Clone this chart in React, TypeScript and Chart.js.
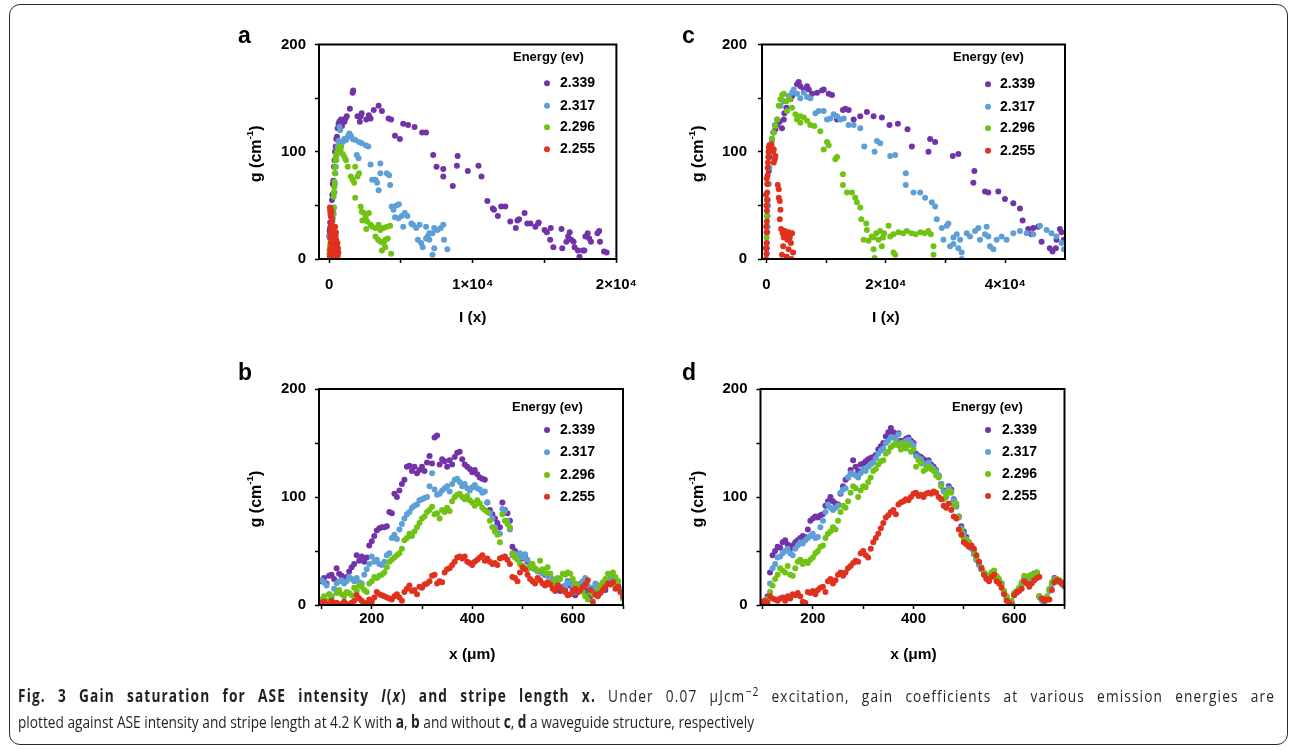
import React, { useEffect, useLayoutEffect, useRef } from 'react';
import { Chart, registerables } from 'chart.js';

Chart.register(...registerables);

// ---------------- data ----------------
const energies = ['2.339', '2.317', '2.296', '2.255'];
const legendTitle = 'Energy (ev)';
const yTicks = [0, 50, 100, 150, 200];
const yTickLabels = ['0', '', '100', '', '200'];
const xTicksA = [0, 5000, 10000, 15000, 20000];
const xTickLabelsA = ['0', '', '1×10⁴', '', '2×10⁴'];
const xTicksC = [0, 10000, 20000, 30000, 40000];
const xTickLabelsC = ['0', '', '2×10⁴', '', '4×10⁴'];
const xTicksBD = [100, 200, 300, 400, 500, 600, 700];
const xTickLabelsBD = ['', '200', '', '400', '', '600', ''];

// panel a : g vs I(x), with waveguide  [I, g]
const aPurple: [number, number][] = [
  [20, 22], [40, 26], [60, 28], [80, 34], [100, 30], [120, 40], [150, 46], [180, 44], [200, 55], [230, 60],
  [260, 70], [300, 73], [340, 86], [380, 92], [420, 100], [460, 105], [500, 112], [550, 114], [600, 122], [660, 126],
  [720, 128], [780, 129], [840, 130], [900, 124], [960, 128], [1070, 128], [1150, 131], [1230, 133], [1450, 140], [1640, 155],
  [1680, 157], [1980, 133], [2140, 128], [2200, 133], [2270, 136], [2590, 130], [2770, 134], [2890, 131], [3110, 139], [3450, 143],
  [3680, 138], [4140, 131], [4320, 130], [4590, 115], [4930, 112], [5160, 126], [5500, 125], [5950, 123], [6480, 118], [6750, 118],
  [7250, 97], [7480, 86], [7950, 84], [7950, 77], [8610, 68], [8900, 87], [8950, 96], [9660, 82], [10400, 87], [10610, 77],
  [11020, 54], [11400, 47], [11480, 46], [11750, 40], [11980, 49], [12270, 49], [12610, 35], [13000, 29], [13110, 36], [13230, 37],
  [13610, 43], [13800, 33], [14020, 33], [14360, 30], [14550, 33], [14590, 34], [15000, 27], [15160, 25], [15430, 29], [15390, 18],
  [15610, 11], [16180, 28], [16230, 10], [16520, 16], [16640, 21], [16750, 25], [16860, 18], [17020, 16], [17090, 11], [17320, 8],
  [17430, 2], [17660, 8], [17770, 8], [17840, 21], [18000, 24], [18110, 19], [18230, 16], [18680, 24], [18800, 26], [18860, 16],
  [19140, 7], [19320, 6],
];
const aBlue: [number, number][] = [
  [20, 20], [50, 22], [80, 10], [110, 20], [140, 22], [170, 25], [200, 22], [230, 28], [260, 38], [290, 45],
  [320, 42], [350, 48], [380, 62], [410, 70], [440, 80], [470, 86], [500, 92], [530, 97], [560, 100], [600, 105],
  [650, 110], [730, 123], [770, 120], [850, 107], [950, 109], [1050, 112], [1180, 111], [1300, 114], [1410, 117], [1520, 115],
  [1640, 112], [1820, 111], [1930, 97], [2050, 94], [2090, 109], [2270, 108], [2550, 106], [2730, 105], [2890, 88], [3000, 74],
  [3230, 74], [3340, 71], [3450, 64], [3570, 89], [3570, 80], [4020, 80], [4180, 78], [4250, 69], [4360, 49], [4480, 46],
  [4590, 39], [4700, 50], [4820, 38], [4860, 51], [5050, 40], [5160, 30], [5270, 43], [5450, 40], [5730, 33], [5840, 32],
  [6070, 29], [6180, 18], [6300, 32], [6410, 15], [6520, 11], [6750, 30], [6750, 19], [6860, 21], [6980, 24], [6980, 18],
  [7200, 24], [7200, 4], [7320, 29], [7320, 10], [7550, 27], [7770, 29], [7950, 32], [8000, 18], [8230, 9],
];
const aGreen: [number, number][] = [
  [20, 5], [40, 8], [60, 10], [80, 12], [100, 14], [120, 17], [150, 20], [180, 25], [210, 30], [240, 35],
  [270, 42], [300, 48], [320, 58], [340, 62], [360, 67], [380, 72], [400, 80], [420, 86], [450, 92], [480, 95],
  [520, 98], [580, 100], [640, 103], [730, 104], [800, 102], [840, 105], [950, 98], [1070, 95], [1180, 92], [1300, 86],
  [1520, 77], [1640, 74], [1750, 71], [1820, 86], [1820, 57], [1980, 77], [2090, 80], [2200, 49], [2270, 44], [2320, 36],
  [2430, 43], [2550, 39], [2590, 28], [2660, 35], [2770, 43], [2890, 32], [3000, 30], [3230, 29], [3230, 21], [3410, 18],
  [3450, 32], [3570, 27], [3570, 16], [3680, 8], [3800, 29], [3800, 15], [3910, 18], [3910, 11], [4020, 30], [4090, 19],
  [4250, 31], [4320, 5],
];
const aRed: [number, number][] = [
  [60, 48], [80, 45], [100, 42], [120, 46], [140, 40], [160, 44], [180, 38], [200, 35], [150, 30], [130, 26],
  [100, 24], [90, 20], [110, 15], [130, 10], [80, 8], [100, 4], [120, 0], [60, 2], [200, 28], [240, 25],
  [280, 22], [320, 26], [360, 24], [400, 20], [430, 16], [460, 22], [500, 18], [540, 12], [580, 15], [620, 10],
  [650, 6], [600, 3], [550, 0], [380, 8], [300, 12], [250, 5], [200, 2], [420, 30], [480, 25],
];

// panel c : g vs I(x), without waveguide  [I, g]
const cPurple: [number, number][] = [
  [50, 10], [100, 25], [150, 40], [200, 55], [300, 70], [400, 82], [500, 95], [700, 105], [900, 112], [1200, 118],
  [1500, 121], [1800, 125], [2200, 128], [2600, 122], [2900, 130], [3000, 136], [3340, 141], [4010, 149], [4290, 152], [5120, 163],
  [5400, 165], [5680, 161], [6240, 158], [6800, 161], [7080, 158], [7630, 154], [8470, 155], [9300, 157], [9580, 158], [10420, 154],
  [10970, 153], [11810, 130], [12810, 139], [13200, 140], [13760, 139], [14600, 130], [15710, 133], [16820, 137], [17940, 133], [19330, 132],
  [20610, 125], [22010, 126], [23620, 121], [24350, 105], [27130, 100], [27410, 112], [28250, 109], [31200, 96], [32140, 98], [34650, 71],
  [34820, 82], [36600, 63], [37160, 62], [38830, 63], [39940, 56], [41340, 52], [42450, 47], [42900, 36], [43840, 28], [44400, 23],
  [44680, 29], [45510, 30], [46070, 16], [47460, 10], [47910, 7], [48470, 10], [48580, 18], [49140, 28], [49420, 25], [49800, 18],
];
const cBlue: [number, number][] = [
  [50, 5], [100, 15], [200, 30], [300, 50], [400, 70], [500, 85], [700, 100], [900, 110], [1100, 118], [1400, 125],
  [1780, 130], [2340, 143], [2900, 147], [3730, 152], [4290, 155], [4570, 158], [5120, 154], [5680, 150], [6240, 155], [6800, 151],
  [7350, 150], [8190, 136], [8750, 138], [9580, 138], [10140, 130], [10700, 131], [11250, 135], [11810, 133], [12370, 130], [12930, 131],
  [13760, 125], [14600, 125], [15710, 122], [16380, 105], [18110, 100], [18500, 110], [19050, 108], [20720, 96], [21560, 97], [23340, 80],
  [23340, 69], [24620, 62], [25740, 62], [26570, 57], [27690, 53], [28250, 49], [28520, 37], [29360, 29], [29640, 18], [30190, 31],
  [30470, 33], [30750, 12], [31310, 20], [31310, 14], [31870, 23], [32140, 10], [32420, 18], [32700, 6], [32700, 0], [33540, 24],
  [34090, 21], [34930, 26], [35490, 29], [35770, 18], [36600, 23], [36880, 30], [37160, 21], [37440, 12], [38000, 9], [38550, 18],
  [39390, 21], [40220, 18], [41340, 24], [42450, 26], [43570, 24], [44680, 23], [45800, 31], [46910, 27], [47740, 24], [48580, 21],
  [49420, 15], [49800, 9],
];
const cGreen: [number, number][] = [
  [30, 20], [60, 40], [100, 55], [150, 70], [250, 85], [390, 99], [670, 105], [900, 112], [1230, 118], [1500, 124],
  [1780, 130], [2060, 143], [2340, 149], [2620, 153], [2900, 154], [3340, 147], [3450, 138], [3900, 149], [4290, 141], [4850, 135],
  [5120, 130], [5680, 133], [5680, 127], [6240, 132], [6800, 129], [7350, 125], [8020, 124], [9020, 119], [9580, 102], [10140, 109],
  [10420, 106], [11530, 93], [11810, 95], [12810, 79], [12810, 69], [13480, 62], [14320, 62], [14870, 57], [15150, 53], [15710, 48],
  [15880, 37], [16270, 18], [16710, 33], [16820, 27], [17100, 17], [17660, 21], [17940, 20], [17940, 9], [18110, 1], [18380, 24],
  [18770, 18], [19050, 26], [19330, 12], [19500, 20], [19720, 24], [20450, 31], [20720, 21], [21280, 23], [21280, 6], [21560, 4],
  [22100, 25], [22900, 24], [23500, 26], [24300, 24], [25000, 23], [25800, 25], [26500, 24], [27100, 26], [27520, 23], [27970, 12],
  [27970, 4],
];
const cRed: [number, number][] = [
  [-100, 10], [-50, 30], [0, 50], [-80, 60], [50, 75], [-60, 0], [0, 5], [20, 15], [40, 25], [60, 35],
  [80, 45], [100, 55], [120, 62], [150, 70], [180, 78], [200, 85], [250, 90], [300, 95], [350, 100], [400, 104],
  [500, 106], [600, 105], [700, 103], [800, 107], [950, 104], [1100, 100], [1230, 102], [1230, 90], [1400, 93], [1500, 96],
  [1890, 69], [2060, 65], [2060, 57], [2230, 54], [2340, 46], [2230, 37], [2450, 28], [2700, 24], [2900, 20], [3100, 26],
  [3300, 22], [3500, 18], [3700, 25], [3900, 20], [4100, 15], [4300, 24], [4460, 6], [3700, 9], [3400, 2], [2800, 12],
  [2600, 4], [4200, 0],
];

// panels b and d : g vs stripe length x (um)
const stripeX = [
  100, 105, 110, 115, 120, 125, 130, 135, 140, 145,
  150, 155, 160, 165, 170, 175, 180, 185, 190, 195,
  200, 205, 210, 215, 220, 225, 230, 235, 240, 245,
  250, 255, 260, 265, 270, 275, 280, 285, 290, 295,
  300, 305, 310, 315, 320, 325, 330, 335, 340, 345,
  350, 355, 360, 365, 370, 375, 380, 385, 390, 395,
  400, 405, 410, 415, 420, 425, 430, 435, 440, 445,
  450, 455, 460, 465, 470, 475, 480, 485, 490, 495,
  500, 505, 510, 515, 520, 525, 530, 535, 540, 545,
  550, 555, 560, 565, 570, 575, 580, 585, 590, 595,
  600, 605, 610, 615, 620, 625, 630, 635, 640, 645,
  650, 655, 660, 665, 670, 675, 680, 685, 690, 695,
  700,
];
const bPurple = [
  22, 25, 20, 27, 28, 24, 34, 29, 27, 24,
  26, 31, 35, 38, 46, 41, 45, 40, 44, 55,
  59, 64, 69, 71, 72, 72, 73, 86, 85, 103,
  100, 106, 112, 116, 128, 129, 124, 128, 122, 125,
  128, 124, 132, 138, 131, 155, 157, 130, 135, 133,
  128, 134, 130, 137, 141, 142, 135, 130, 128, 126,
  123, 125, 121, 118, 117, 116, 95, 88, 84, 80,
  76, 72, 95, 88, 85, 78, 54, 50, 47, 44,
  43, 46, 40, 36, 35, 33, 32, 31, 30, 28,
  27, 29, 23, 18, 16, 13, 17, 14, 22, 18,
  15, 9, 12, 14, 18, 12, 16, 8, 13, 16,
  18, 12, 17, 14, 20, 22, 21, 24, 18, 14,
  6,
];
const bBlue = [
  23, 21, 18, 10, 8, 15, 20, 22, 23, 20,
  22, 26, 24, 22, 25, 21, 20, 28, 33, 38,
  45, 40, 42, 38, 37, 40, 46, 48, 62, 65,
  61, 70, 75, 80, 84, 86, 90, 92, 93, 97,
  98, 99, 100, 110, 122, 107, 102, 103, 106, 108,
  110, 105, 112, 116, 117, 114, 110, 112, 108, 106,
  109, 111, 108, 107, 104, 105, 95, 85, 80, 72,
  67, 66, 89, 87, 78, 70, 46, 47, 45, 48,
  44, 47, 42, 37, 34, 33, 31, 32, 29, 30,
  27, 28, 24, 23, 20, 17, 15, 18, 21, 20,
  18, 12, 15, 20, 22, 25, 18, 14, 16, 20,
  17, 11, 15, 19, 22, 24, 26, 20, 22, 15,
  9,
];
const bGreen = [
  5, 8, 4, 10, 7, 2, 11, 14, 10, 8,
  12, 11, 9, 16, 13, 18, 17, 14, 12, 20,
  22, 26, 25, 27, 28, 30, 35, 40, 42, 44,
  46, 48, 52, 60, 62, 66, 64, 68, 72, 76,
  80, 82, 86, 88, 91, 84, 85, 80, 88, 86,
  90, 87, 96, 100, 102, 103, 100, 98, 101, 97,
  95, 92, 97, 94, 90, 88, 86, 78, 72, 68,
  65, 58, 84, 78, 75, 72, 48, 44, 42, 38,
  36, 34, 33, 36, 38, 34, 32, 41, 33, 30,
  35, 29, 22, 19, 25, 24, 29, 28, 30, 29,
  24, 20, 18, 15, 12, 8, 5, 12, 10, 9,
  14, 18, 21, 24, 29, 28, 30, 26, 22, 12,
  6,
];
const bRed = [
  2, 3, 1, 0, 4, 1, 2, 0, 1, 3,
  1, 0, 2, 4, 9, 6, 4, 2, 1, 5,
  3, 7, 12, 10, 9, 8, 7, 6, 5, 8,
  10, 7, 4, 12, 15, 18, 13, 14, 10, 17,
  16, 19, 20, 22, 27, 28, 20, 22, 21, 30,
  33, 34, 37, 40, 44, 45, 43, 45, 40, 39,
  37, 40, 42, 44, 46, 41, 43, 40, 38, 39,
  37, 43, 44, 45, 42, 38, 26, 25, 22, 30,
  35, 33, 28, 24, 22, 20, 25, 23, 20, 18,
  21, 19, 15, 13, 18, 16, 14, 12, 9, 10,
  13, 15, 12, 14, 17, 19, 23, 14, 3, 10,
  8, 11, 14, 17, 20, 19, 21, 15, 17, 12,
  8,
];
const dPurple = [
  2, 4, 8, 30, 46, 50, 54, 53, 58, 60,
  56, 52, 55, 58, 60, 62, 64, 63, 70, 78,
  80, 82, 81, 83, 84, 92, 96, 100, 96, 94,
  93, 103, 110, 116, 118, 125, 134, 128, 124, 130,
  131, 133, 135, 136, 137, 139, 144, 147, 150, 156,
  160, 164, 160, 158, 159, 152, 150, 154, 155, 152,
  150, 140, 138, 137, 135, 133, 134, 130, 128, 125,
  120, 112, 106, 104, 110, 107, 98, 92, 82, 73,
  68, 63, 58, 53, 48, 42, 38, 33, 29, 25,
  24, 28, 31, 26, 23, 20, 12, 7, 3, 2,
  10, 12, 15, 20, 24, 22, 26, 28, 29, 30,
  8, 5, 4, 6, 14, 20, 25, 23, 22, 20,
  18,
];
const dBlue = [
  1, 3, 6, 20, 34, 38, 44, 45, 48, 50,
  52, 48, 46, 52, 55, 58, 57, 60, 62, 64,
  66, 62, 63, 72, 78, 86, 93, 90, 88, 90,
  92, 104, 107, 108, 118, 122, 121, 120, 118, 122,
  126, 124, 128, 130, 132, 136, 140, 143, 145, 150,
  152, 155, 155, 154, 158, 150, 148, 152, 153, 150,
  148, 138, 136, 135, 131, 130, 132, 128, 126, 124,
  120, 112, 105, 100, 108, 105, 97, 91, 81, 71,
  66, 61, 57, 52, 47, 42, 37, 33, 28, 25,
  23, 27, 30, 25, 22, 19, 11, 6, 2, 1,
  9, 11, 14, 19, 23, 21, 25, 27, 28, 29,
  7, 4, 3, 5, 13, 19, 24, 22, 21, 19,
  17,
];
const dGreen = [
  0, 2, 5, 12, 18, 24, 28, 34, 32, 30,
  36, 28, 27, 34, 40, 42, 38, 40, 39, 42,
  44, 48, 50, 54, 55, 62, 66, 68, 72, 70,
  78, 86, 92, 90, 96, 104, 110, 108, 100, 106,
  110, 109, 114, 118, 124, 126, 130, 133, 134, 140,
  142, 146, 148, 150, 148, 144, 150, 145, 148, 142,
  144, 128, 134, 131, 124, 126, 128, 126, 124, 120,
  118, 110, 98, 102, 106, 104, 92, 94, 82, 70,
  62, 60, 58, 55, 50, 44, 40, 35, 30, 28,
  27, 30, 32, 27, 24, 20, 13, 8, 3, 4,
  11, 13, 16, 21, 27, 22, 27, 28, 27, 30,
  8, 6, 5, 8, 15, 21, 23, 24, 23, 21,
  18,
];
const dRed = [
  3, 4, 2, 8, 6, 5, 4, 6, 7, 4,
  8, 6, 10, 9, 11, 8, 3, 2, 12, 11,
  13, 10, 14, 16, 17, 12, 22, 24, 20, 23,
  28, 30, 27, 30, 34, 36, 39, 41, 40, 48,
  50, 46, 44, 52, 58, 62, 66, 71, 76, 81,
  83, 86, 88, 84, 93, 95, 96, 98, 97, 100,
  103, 104, 101, 102, 100, 103, 104, 103, 105, 104,
  100, 98, 92, 90, 94, 88, 82, 80, 70, 65,
  58, 56, 54, 55, 52, 46, 40, 34, 28, 24,
  22, 26, 28, 22, 20, 16, 10, 4, 2, 0,
  9, 12, 13, 15, 22, 20, 17, 20, 23, 25,
  26, 6, 4, 5, 5, 14, 21, 23, 22, 20,
  18,
];

// ---------------- styling ----------------
const COLORS = ['#7232a8', '#5d9fd6', '#70c213', '#e0311f'];
const FONT = '"Liberation Sans", Arial, Helvetica, sans-serif';
const CAP_FONT = '"Open Sans", "Noto Sans", sans-serif';

const toPts = (pairs: [number, number][]) => pairs.map(([x, y]) => ({ x, y }));
const gridPts = (ys: number[]) => ys.map((y, i) => ({ x: stripeX[i], y }));

type Cfg = any;

const panels: Cfg[] = [
  {
    letter: 'a', left: 230, top: 20, w: 420, h: 330, plot: [319, 44.5, 623, 259],
    xMin: -700, xMax: 20000, xTicks: xTicksA, xLabels: xTickLabelsA, xPad: 13,
    series: [aPurple, aBlue, aGreen, aRed].map(toPts),
    xTitle: 'I (x)', xTitleAt: 10000, xTitleY: 318, yTitleX: 256.5, yLabelPad: 9,
    letterXY: [238, 43], leg: { tx: 513, ty: 57.5, dx: 547, lx: 560, rows: [83.3, 105.7, 127.3, 149.3] },
  },
  {
    letter: 'c', left: 673, top: 20, w: 420, h: 330, plot: [762, 44.5, 1065, 259],
    xMin: -750, xMax: 50000, xTicks: xTicksC, xLabels: xTickLabelsC, xPad: 13,
    series: [cPurple, cBlue, cGreen, cRed].map(toPts),
    xTitle: 'I (x)', xTitleAt: 20000, xTitleY: 318, yTitleX: 698.5, yLabelPad: 11,
    letterXY: [682, 43], leg: { tx: 953, ty: 57, dx: 988, lx: 1000, rows: [84.3, 106.7, 128.3, 150.7] },
  },
  {
    letter: 'b', left: 230, top: 355, w: 420, h: 340, plot: [319, 389, 623, 605],
    xMin: 95, xMax: 700, xTicks: xTicksBD, xLabels: xTickLabelsBD, xPad: 1,
    series: [bPurple, bBlue, bGreen, bRed].map(gridPts),
    xTitle: 'x (μm)', xTitleAt: 400, xTitleY: 655, yTitleX: 256.5, yLabelPad: 9,
    letterXY: [238, 380], leg: { tx: 512, ty: 407, dx: 547, lx: 560, rows: [430, 452.3, 475, 496.7] },
  },
  {
    letter: 'd', left: 673, top: 355, w: 420, h: 340, plot: [760.5, 389, 1064.5, 605],
    xMin: 96, xMax: 700, xTicks: xTicksBD, xLabels: xTickLabelsBD, xPad: 1,
    series: [dPurple, dBlue, dGreen, dRed].map(gridPts),
    xTitle: 'x (μm)', xTitleAt: 400, xTitleY: 655, yTitleX: 698.5, yLabelPad: 9,
    letterXY: [682, 380], leg: { tx: 952, ty: 407, dx: 988, lx: 1002, rows: [430, 452, 474, 496] },
  },
];

function drawRichCentered(ctx: CanvasRenderingContext2D, parts: { t: string; sup?: boolean }[], size: number) {
  const supSize = size * 0.62;
  let w = 0;
  for (const p of parts) {
    ctx.font = `bold ${p.sup ? supSize : size}px ${FONT}`;
    w += ctx.measureText(p.t).width;
  }
  let x = -w / 2;
  ctx.textAlign = 'left';
  ctx.textBaseline = 'middle';
  for (const p of parts) {
    ctx.font = `bold ${p.sup ? supSize : size}px ${FONT}`;
    ctx.fillText(p.t, x, p.sup ? -size * 0.38 : 0);
    x += ctx.measureText(p.t).width;
  }
}

const yTitleParts = [{ t: 'g (cm' }, { t: '-1', sup: true }, { t: ')' }];

const decor = {
  id: 'decor',
  afterDraw(chart: any, _args: any, o: any) {
    const { ctx, chartArea: ca } = chart;
    const ox = o.left, oy = o.top;
    ctx.save();
    // frame
    ctx.strokeStyle = '#000';
    ctx.lineWidth = 2;
    ctx.strokeRect(ca.left, ca.top, ca.right - ca.left, ca.bottom - ca.top);
    ctx.fillStyle = '#000';
    // panel letter
    ctx.font = `bold 23px ${FONT}`;
    ctx.textAlign = 'left';
    ctx.textBaseline = 'alphabetic';
    ctx.fillText(o.letter, o.letterXY[0] - ox, o.letterXY[1] - oy);
    // x title
    ctx.font = `bold 15.5px ${FONT}`;
    ctx.textAlign = 'center';
    ctx.textBaseline = 'middle';
    ctx.fillText(o.xTitle, chart.scales.x.getPixelForValue(o.xTitleAt), o.xTitleY - oy);
    // y title
    ctx.save();
    ctx.translate(o.yTitleX - ox, (ca.top + ca.bottom) / 2 + 2);
    ctx.rotate(-Math.PI / 2);
    drawRichCentered(ctx, yTitleParts, 16);
    ctx.restore();
    // legend
    const L = o.leg;
    ctx.font = `bold 13px ${FONT}`;
    ctx.textAlign = 'left';
    ctx.textBaseline = 'middle';
    ctx.fillStyle = '#000';
    ctx.fillText(legendTitle, L.tx - ox, L.ty - oy);
    energies.forEach((e, i) => {
      const y = L.rows[i] - oy;
      ctx.beginPath();
      ctx.fillStyle = COLORS[i];
      ctx.arc(L.dx - ox, y, 3, 0, Math.PI * 2);
      ctx.fill();
      ctx.fillStyle = '#000';
      ctx.font = `bold 14px ${FONT}`;
      ctx.fillText(e, L.lx - ox, y);
    });
    ctx.restore();
  },
};

function Panel({ cfg }: { cfg: Cfg }) {
  const ref = useRef<HTMLCanvasElement>(null);
  useEffect(() => {
    const [pl, pt, pr, pb] = cfg.plot;
    const tickFont = { family: FONT, size: 15, weight: 'bold' as const };
    const chart = new Chart(ref.current as HTMLCanvasElement, {
      type: 'scatter',
      data: {
        datasets: cfg.series.map((pts: any, i: number) => ({
          label: energies[i],
          data: pts,
          backgroundColor: COLORS[i],
          borderWidth: 0,
          pointRadius: 3,
          pointHoverRadius: 3,
          order: 3 - i,
        })),
      },
      options: {
        animation: false,
        responsive: false,
        events: [],
        layout: { padding: { left: 0, top: pt - cfg.top, right: cfg.left + cfg.w - pr, bottom: 0 } },
        plugins: {
          legend: { display: false },
          tooltip: { enabled: false },
          decor: cfg,
        } as any,
        scales: {
          x: {
            type: 'linear',
            min: cfg.xMin,
            max: cfg.xMax,
            afterBuildTicks: (s: any) => { s.ticks = cfg.xTicks.map((v: number) => ({ value: v })); },
            afterFit: (s: any) => { s.height = cfg.top + cfg.h - pb; },
            ticks: {
              autoSkip: false, maxRotation: 0, minRotation: 0, padding: cfg.xPad,
              font: tickFont, color: '#000',
              callback: (_v: any, i: number) => cfg.xLabels[i],
            },
            grid: { drawOnChartArea: false, drawTicks: true, tickLength: 4, tickColor: '#000', tickWidth: 1.5 },
            border: { display: false },
          },
          y: {
            type: 'linear',
            min: 0,
            max: 200,
            afterBuildTicks: (s: any) => { s.ticks = yTicks.map((v) => ({ value: v })); },
            afterFit: (s: any) => { s.width = pl - cfg.left; },
            ticks: {
              autoSkip: false, padding: cfg.yLabelPad,
              font: tickFont, color: '#000',
              callback: (_v: any, i: number) => yTickLabels[i],
            },
            grid: { drawOnChartArea: false, drawTicks: true, tickLength: 4, tickColor: '#000', tickWidth: 1.5 },
            border: { display: false },
          },
        },
      } as any,
      plugins: [decor as any],
    });
    return () => chart.destroy();
  }, []);
  return (
    <canvas
      ref={ref}
      width={cfg.w}
      height={cfg.h}
      style={{ position: 'absolute', left: cfg.left, top: cfg.top, width: cfg.w, height: cfg.h }}
    />
  );
}

function Caption() {
  const boxRef = useRef<HTMLDivElement>(null);
  const line1Ref = useRef<HTMLDivElement>(null);
  const line2Ref = useRef<HTMLDivElement>(null);
  useLayoutEffect(() => {
    const fit = () => {
      const box = boxRef.current, l1 = line1Ref.current, l2 = line2Ref.current;
      if (!box || !l1 || !l2) return;
      box.style.transform = 'none';
      l1.style.letterSpacing = '0px';
      l1.style.wordSpacing = '0px';
      const w2 = l2.getBoundingClientRect().width;
      if (w2 <= 0) return;
      const s = 736 / w2;
      const target = 1257 / s;
      const txt = l1.textContent || '';
      const n = txt.length || 1;
      const nSp = (txt.match(/ /g) || []).length || 1;
      const w1 = l1.getBoundingClientRect().width;
      const extra = target - w1;
      l1.style.wordSpacing = `${(extra * 0.5) / nSp}px`;
      let ls = (extra * 0.5) / n;
      l1.style.letterSpacing = `${ls}px`;
      for (let k = 0; k < 2; k++) {
        const w = l1.getBoundingClientRect().width;
        ls += (target - w) / n;
        l1.style.letterSpacing = `${ls}px`;
      }
      box.style.transform = `scaleX(${s})`;
    };
    fit();
    const f = (document as any).fonts;
    if (f && f.ready) f.ready.then(fit);
  }, []);
  const lineStyle: React.CSSProperties = { whiteSpace: 'nowrap', height: 26, lineHeight: '26px', width: 'max-content' };
  return (
    <div
      ref={boxRef}
      style={{
        position: 'absolute', left: 18, top: 683, transformOrigin: '0 0',
        fontFamily: CAP_FONT, fontSize: 17, color: '#231f20',
      }}
    >
      <div ref={line1Ref} style={lineStyle}>
        <b>Fig. 3 Gain saturation for ASE intensity <i>I</i>(<i>x</i>) and stripe length x.</b> Under 0.07 μJcm
        <span style={{ position: 'relative', top: '-0.45em', fontSize: '0.75em', lineHeight: 0 }}>−2</span> excitation,
        gain coefficients at various emission energies are
      </div>
      <div ref={line2Ref} style={lineStyle}>
        plotted against ASE intensity and stripe length at 4.2 K with <b>a</b>, <b>b</b> and without <b>c</b>,{' '}
        <b>d</b> a waveguide structure, respectively
      </div>
    </div>
  );
}

export default function App() {
  return (
    <div style={{ position: 'fixed', left: 0, top: 0, width: 1293, height: 750, background: '#fff', overflow: 'hidden' }}>
      <div
        style={{
          position: 'absolute', left: 9, top: 4, width: 1279, height: 741, boxSizing: 'border-box',
          border: '1.5px solid #2a2a2a', borderRadius: 11,
        }}
      />
      {panels.map((p) => (
        <Panel key={p.letter} cfg={p} />
      ))}
      <Caption />
    </div>
  );
}
